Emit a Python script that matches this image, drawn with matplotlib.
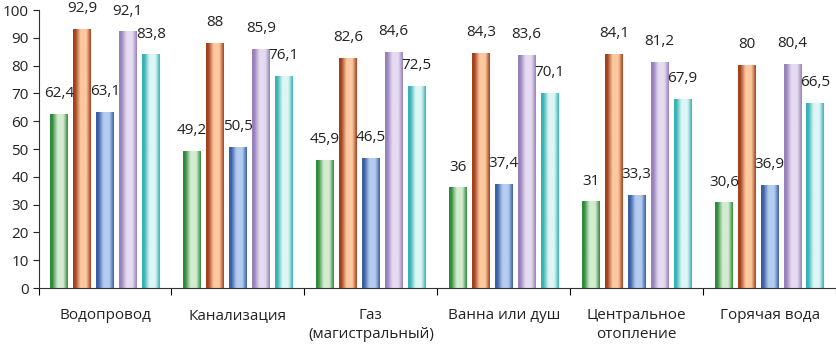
import numpy as np
from matplotlib import pyplot as plt
from matplotlib.colors import LinearSegmentedColormap

# =============================================================================
# Data
# =============================================================================

categories = ['Водопровод', 'Канализация', 'Газ\n(магистральный)',
              'Ванна или душ', 'Центральное\nотопление', 'Горячая вода']
series1 = [62.4, 49.2, 45.9, 36.0, 31.0, 30.6]   # green
series2 = [92.9, 88.0, 82.6, 84.3, 84.1, 80.0]   # orange
series3 = [63.1, 50.5, 46.5, 37.4, 33.3, 36.9]   # blue
series4 = [92.1, 85.9, 84.6, 83.6, 81.2, 80.4]   # lavender
series5 = [83.8, 76.1, 72.5, 70.1, 67.9, 66.5]   # cyan
y_ticks = list(range(0, 101, 10))

# dark edge / light highlight for each series (cylinder-like shading)
shades = [('#2f8a3c', '#d4eccf'),
          ('#a3401d', '#fcc9a0'),
          ('#3b5ea6', '#b4cdef'),
          ('#9781bb', '#e6dcf2'),
          ('#36b3b5', '#def6f6')]


def fmt(v):
    s = '{:g}'.format(v)
    return s.replace('.', ',')


plt.rcParams['font.family'] = ['Open Sans', 'DejaVu Sans']

fig = plt.figure(figsize=(8.37, 3.45), dpi=100)
ax = fig.add_axes([0.046, 0.165, 0.953, 0.806])

n_cat = len(categories)
all_series = [series1, series2, series3, series4, series5]
width = 0.135
step = 0.172
x = np.arange(n_cat)

gradient = np.linspace(0, 1, 64).reshape(1, -1)

for k, (vals, (dark, light)) in enumerate(zip(all_series, shades)):
    cmap = LinearSegmentedColormap.from_list(
        'c%d' % k, [(0, dark), (0.12, dark), (0.42, light),
                    (0.75, light), (1, dark)])
    offs = (k - 2) * step
    bars = ax.bar(x + offs, vals, width, color='none', edgecolor='none',
                  zorder=2)
    for b, v in zip(bars, vals):
        x0 = b.get_x()
        ax.imshow(gradient, cmap=cmap, aspect='auto', zorder=2,
                  extent=(x0, x0 + width, 0, v), interpolation='bicubic')
        ax.text(b.get_x() + width / 2, v + 7.5, fmt(v), ha='center',
                va='center', fontsize=11, color='#222222')

ax.set_xlim(-0.5, n_cat - 0.5)
ax.set_ylim(0, 100)
ax.set_yticks(y_ticks)
ax.tick_params(axis='y', labelsize=11, length=4, direction='out',
               colors='#222222', pad=3)

# category boundaries as x tick marks, labels at centers
ax.set_xticks(np.arange(n_cat + 1) - 0.5)
ax.set_xticklabels([])
ax.set_xticks(x, minor=True)
ax.set_xticklabels(categories, minor=True, fontsize=11, color='#222222',
                   linespacing=1.45)
ax.tick_params(axis='x', which='minor', length=0, pad=14)
ax.tick_params(axis='x', which='major', length=5, direction='out')

for side in ['top', 'right']:
    ax.spines[side].set_visible(False)
for side in ['left', 'bottom']:
    ax.spines[side].set_color('#333333')

plt.savefig('out.png', dpi=100)
